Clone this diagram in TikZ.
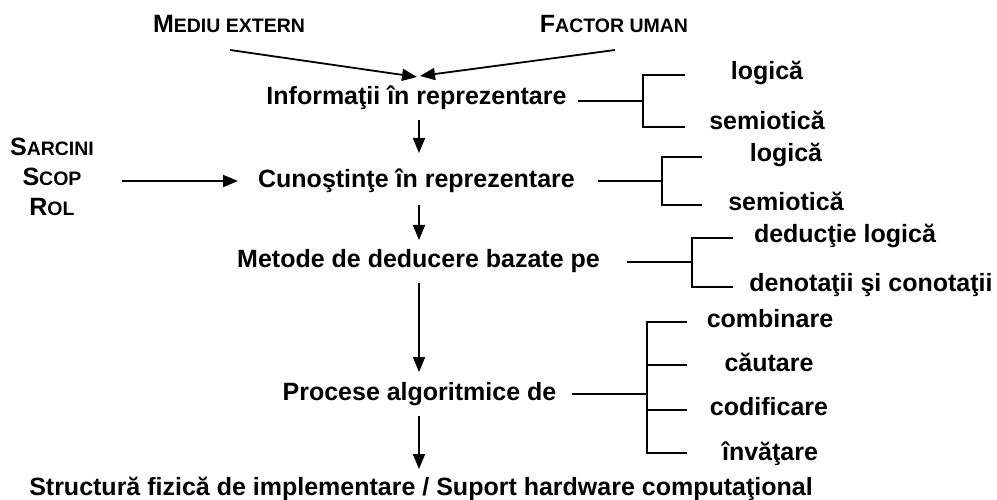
\documentclass[tikz,border=0pt]{standalone}
\usepackage{fontspec}
\setmainfont{Liberation Sans}
\usetikzlibrary{arrows.meta}
\begin{document}
\begin{tikzpicture}[x=1pt,y=-1pt,
  lbl/.style={font=\bfseries\fontsize{25}{30}\selectfont, inner sep=0pt, anchor=base},
  sml/.style={font=\bfseries\fontsize{25}{30}\selectfont, inner sep=0pt, align=center},
  arr/.style={-{Triangle[length=15pt,width=12pt]}, line width=1.8pt},
  ln/.style={line width=1.4pt},
  lnthick/.style={line width=2.3pt}]
\newcommand{\smc}[1]{{\fontsize{19.5}{30}\selectfont #1}}
\useasboundingbox (0,0) rectangle (997,500);

% top inputs
\node[sml, anchor=base] (medext) at (229,33) {M\smc{EDIU EXTERN}};
\node[sml, anchor=base] (factor) at (614,33) {F\smc{ACTOR UMAN}};
\node[sml, anchor=center] (sarc) at (52,177) {S\smc{ARCINI}\\S\smc{COP}\\R\smc{OL}};

% main column
\node[lbl] (info) at (416.5,105) {Informaţii în reprezentare};
\node[lbl] (cun) at (416.5,188) {Cunoştinţe în reprezentare};
\node[lbl] (met) at (418.5,267) {Metode de deducere bazate pe};
\node[lbl] (proc) at (419.5,400) {Procese algoritmice de};
\node[lbl] (struct) at (421,495) {Structură fizică de implementare / Suport hardware computaţional};

% branch labels
\node[lbl] (l1a) at (767,80) {logică};
\node[lbl] (l1b) at (767,130) {semiotică};
\node[lbl] (l2a) at (786,162) {logică};
\node[lbl] (l2b) at (786,211) {semiotică};
\node[lbl] (l3a) at (845,243) {deducţie logică};
\node[lbl] (l3b) at (871,291) {denotaţii şi conotaţii};
\node[lbl] (l4a) at (770,327) {combinare};
\node[lbl] (l4b) at (769,371) {căutare};
\node[lbl] (l4c) at (769,415) {codificare};
\node[lbl] (l4d) at (770,460) {învăţare};

% arrow end points
\coordinate (mstart) at (230,50);
\coordinate (fstart) at (615,50);
\coordinate (tipL) at (417,77);
\coordinate (tipR) at (420,76);
\coordinate (sstart) at (122,181);
\coordinate (send) at (238,181);

\draw[arr] (mstart) -- (tipL);
\draw[arr] (fstart) -- (tipR);
\draw[arr] (sstart) -- (send);
\coordinate (a1s) at (419,120); \coordinate (a1e) at (419,153);
\coordinate (a2s) at (419,205); \coordinate (a2e) at (419,240);
\coordinate (a3s) at (419,283); \coordinate (a3e) at (419,372);
\coordinate (a4s) at (419,416); \coordinate (a4e) at (419,469);
\draw[arr] (a1s) -- (a1e);
\draw[arr] (a2s) -- (a2e);
\draw[arr] (a3s) -- (a3e);
\draw[arr] (a4s) -- (a4e);

% brackets
\coordinate (s1) at (578,101); \coordinate (b1) at (643,101);
\draw[ln] (s1) -- (b1);
\draw[ln] (685,75) -| (643,127) -- (685,127);

\coordinate (s2) at (598,181); \coordinate (b2) at (662,181);
\draw[ln] (s2) -- (b2);
\draw[ln] (662,157) -- (662,205) -- (702,205);
\draw[lnthick] (661.3,157) -- (702,157);

\coordinate (s3) at (627,262); \coordinate (b3) at (692,262);
\draw[ln] (s3) -- (b3);
\draw[ln] (692,238) -- (692,287) -- (733,287);
\draw[lnthick] (691.3,238) -- (733,238);

\coordinate (s4) at (572,394); \coordinate (b4) at (647,394);
\draw[ln] (s4) -- (b4);
\draw[ln] (687,322) -| (647,453) -- (687,453);
\draw[ln] (647,365) -- (687,365);
\draw[ln] (647,410) -- (687,410);
\end{tikzpicture}
\end{document}
